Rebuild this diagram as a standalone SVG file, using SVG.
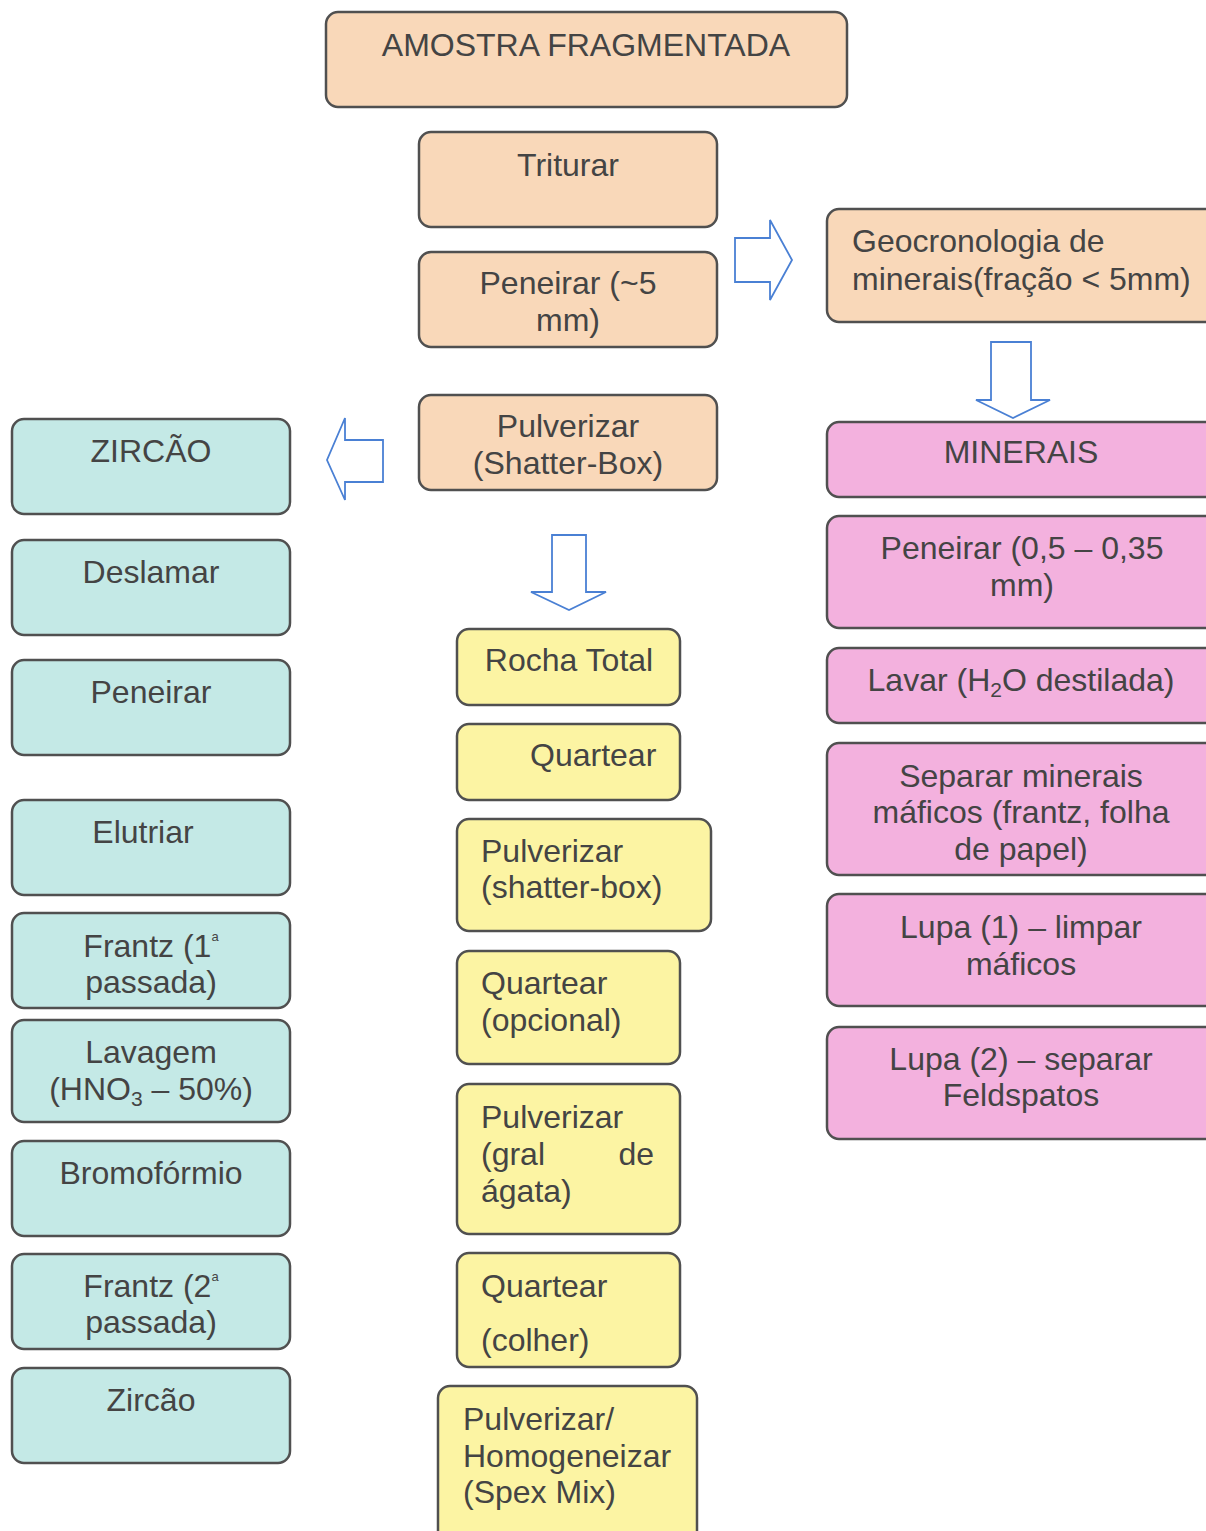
<svg xmlns="http://www.w3.org/2000/svg" width="1206" height="1531" viewBox="0 0 1206 1531">
<style>
.b{stroke:#505050;stroke-width:2.5}
.p{fill:#f9d8b9}.c{fill:#c4e9e6}.y{fill:#fcf4a3}.m{fill:#f3b1de}
text{font-family:"Liberation Sans",Arial,sans-serif;font-size:32px;fill:#444}
.t{text-anchor:middle}
.a{fill:#fff;stroke:#4a80d4;stroke-width:1.8;stroke-linejoin:miter}
</style>
<rect width="1206" height="1531" fill="#fff"/>
<g id="connectors">
<path class="a" d="M735,238 H770 V220 L792,260 L770,300 V282 H735 Z"/>
<path class="a" d="M991,342 H1031 V400 H1050 L1013,418 L976,400 H991 Z"/>
<path class="a" d="M383,440 H345 V418 L327,460 L345,500 V482 H383 Z"/>
<path class="a" d="M552,535 H586 V592 H606 L569,610 L531,592 H552 Z"/>
</g>
<g id="n-amostra"><rect class="b p" x="326" y="12" width="521" height="95" rx="12"/><text class="t" x="586" y="56">AMOSTRA FRAGMENTADA</text></g>
<g id="n-triturar"><rect class="b p" x="419" y="132" width="298" height="95" rx="12"/><text class="t" x="568" y="176">Triturar</text></g>
<g id="n-peneirar5"><rect class="b p" x="419" y="252" width="298" height="95" rx="12"/><text class="t" x="568" y="294">Peneirar (~5</text><text class="t" x="568" y="331">mm)</text></g>
<g id="n-pulverizar"><rect class="b p" x="419" y="395" width="298" height="95" rx="12"/><text class="t" x="568" y="437">Pulverizar</text><text class="t" x="568" y="474">(Shatter-Box)</text></g>
<g id="n-geo"><rect class="b p" x="827" y="209" width="400" height="113" rx="12"/><text x="852" y="252">Geocronologia de</text><text x="852" y="290">minerais(fração &lt; 5mm)</text></g>

<g id="n-minerais"><rect class="b m" x="827" y="422" width="400" height="75" rx="12"/><text class="t" x="1021" y="463">MINERAIS</text></g>
<g id="n-peneirar035"><rect class="b m" x="827" y="516" width="400" height="112" rx="12"/><text class="t" x="1022" y="559">Peneirar (0,5 – 0,35</text><text class="t" x="1022" y="596">mm)</text></g>
<g id="n-lavar"><rect class="b m" x="827" y="648" width="400" height="75" rx="12"/><text class="t" x="1021" y="691">Lavar (H<tspan font-size="21" dy="6">2</tspan><tspan dy="-6">O destilada)</tspan></text></g>
<g id="n-separar"><rect class="b m" x="827" y="743" width="400" height="132" rx="12"/><text class="t" x="1021" y="787">Separar minerais</text><text class="t" x="1021" y="823">máficos (frantz, folha</text><text class="t" x="1021" y="860">de papel)</text></g>
<g id="n-lupa1"><rect class="b m" x="827" y="894" width="400" height="112" rx="12"/><text class="t" x="1021" y="938">Lupa (1) – limpar</text><text class="t" x="1021" y="975">máficos</text></g>
<g id="n-lupa2"><rect class="b m" x="827" y="1027" width="400" height="112" rx="12"/><text class="t" x="1021" y="1070">Lupa (2) – separar</text><text class="t" x="1021" y="1106">Feldspatos</text></g>

<g id="n-zircao"><rect class="b c" x="12" y="419" width="278" height="95" rx="12"/><text class="t" x="151" y="462">ZIRCÃO</text></g>
<g id="n-deslamar"><rect class="b c" x="12" y="540" width="278" height="95" rx="12"/><text class="t" x="151" y="583">Deslamar</text></g>
<g id="n-peneirar"><rect class="b c" x="12" y="660" width="278" height="95" rx="12"/><text class="t" x="151" y="703">Peneirar</text></g>
<g id="n-elutriar"><rect class="b c" x="12" y="800" width="278" height="95" rx="12"/><text class="t" x="143" y="843">Elutriar</text></g>
<g id="n-frantz1"><rect class="b c" x="12" y="913" width="278" height="95" rx="12"/><text class="t" x="151" y="957">Frantz (1<tspan font-size="13" dy="-16">a</tspan></text><text class="t" x="151" y="993">passada)</text></g>
<g id="n-lavagem"><rect class="b c" x="12" y="1020" width="278" height="102" rx="12"/><text class="t" x="151" y="1063">Lavagem</text><text class="t" x="151" y="1100">(HNO<tspan font-size="21" dy="6">3</tspan><tspan dy="-6"> – 50%)</tspan></text></g>
<g id="n-bromo"><rect class="b c" x="12" y="1141" width="278" height="95" rx="12"/><text class="t" x="151" y="1184">Bromofórmio</text></g>
<g id="n-frantz2"><rect class="b c" x="12" y="1254" width="278" height="95" rx="12"/><text class="t" x="151" y="1297">Frantz (2<tspan font-size="13" dy="-16">a</tspan></text><text class="t" x="151" y="1333">passada)</text></g>
<g id="n-zircao2"><rect class="b c" x="12" y="1368" width="278" height="95" rx="12"/><text class="t" x="151" y="1411">Zircão</text></g>

<g id="n-rocha"><rect class="b y" x="457" y="629" width="223" height="76" rx="12"/><text class="t" x="569" y="671">Rocha Total</text></g>
<g id="n-quartear1"><rect class="b y" x="457" y="724" width="223" height="76" rx="12"/><text x="530" y="766">Quartear</text></g>
<g id="n-pulv2"><rect class="b y" x="457" y="819" width="254" height="112" rx="12"/><text x="481" y="862">Pulverizar</text><text x="481" y="898">(shatter-box)</text></g>
<g id="n-quartear2"><rect class="b y" x="457" y="951" width="223" height="113" rx="12"/><text x="481" y="994">Quartear</text><text x="481" y="1031">(opcional)</text></g>
<g id="n-pulv3"><rect class="b y" x="457" y="1084" width="223" height="150" rx="12"/><text x="481" y="1128">Pulverizar</text><text x="481" y="1165">(gral</text><text x="654" y="1165" text-anchor="end">de</text><text x="481" y="1202">ágata)</text></g>
<g id="n-quartear3"><rect class="b y" x="457" y="1253" width="223" height="114" rx="12"/><text x="481" y="1297">Quartear</text><text x="481" y="1351">(colher)</text></g>
<g id="n-pulv4"><rect class="b y" x="438" y="1386" width="259" height="160" rx="12"/><text x="463" y="1430">Pulverizar/</text><text x="463" y="1467">Homogeneizar</text><text x="463" y="1503">(Spex Mix)</text></g>
</svg>
